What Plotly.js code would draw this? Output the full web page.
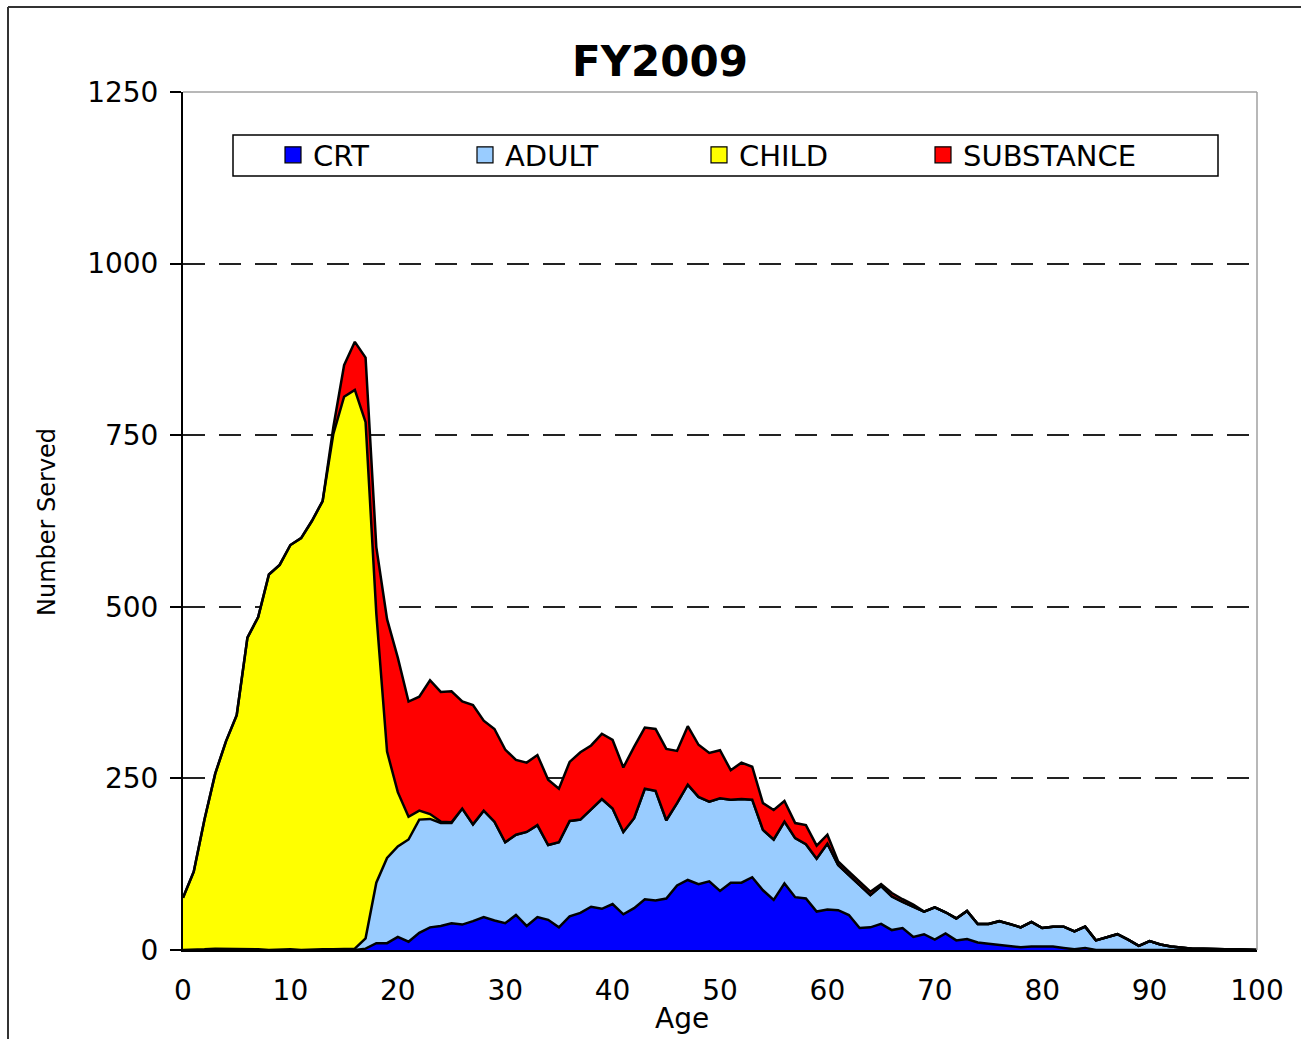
<!DOCTYPE html>
<html>
<head>
<meta charset="utf-8">
<script src="https://cdn.plot.ly/plotly-3.0.1.min.js"></script>
<style>
html, body { margin: 0; padding: 0; background: #ffffff; }
#chart { width: 1301px; height: 1039px; }
</style>
</head>
<body>
<div id="chart"></div>
<script>
// ---- Data ----
const ages = [0,1,2,3,4,5,6,7,8,9,10,11,12,13,14,15,16,17,18,19,20,21,22,23,24,25,26,27,28,29,30,31,32,33,34,35,36,37,38,39,40,41,42,43,44,45,46,47,48,49,50,51,52,53,54,55,56,57,58,59,60,61,62,63,64,65,66,67,68,69,70,71,72,73,74,75,76,77,78,79,80,81,82,83,84,85,86,87,88,89,90,91,92,93,94,95,96,97,98,99,100];

const seriesNames = ['CRT', 'ADULT', 'CHILD', 'SUBSTANCE'];

const crt = [0,0,0,0,0,0,0,0,0,0,0,0,0,0,0,0,0,2,10,10,19,12,25,33,35,39,37,42,48,43,39,51,35,48,44,33,49,54,63,60,67,52,61,74,72,75,94,102,96,100,86,98,98,106,87,73,97,77,75,56,59,58,51,32,33,38,29,32,19,23,15,24,14,16,11,9,7,6,4,5,5,5,3,1,3,0,0,0,0,0,0,0,0,0,0,0,0,0,0,0,0];

const adult = [0,0,1,2,2,1,1,1,0,1,1,0,1,1,1,1,2,15,88,124,132,149,165,158,150,146,169,141,155,144,118,117,137,134,109,124,139,136,142,160,139,120,131,161,160,114,120,139,127,116,135,121,122,113,88,88,90,86,79,77,96,66,58,63,47,55,49,38,44,33,47,31,32,41,27,29,35,32,29,36,27,29,31,26,31,14,18,23,15,6,13,8,5,3,2,2,1,1,1,0,0];

const child = [76,114,189,255,302,341,454,484,547,560,589,600,624,653,751,805,814,752,392,155,79,33,13,7,2,1,0,0,0,0,0,0,0,0,0,0,0,0,0,0,0,0,0,0,0,0,0,0,0,0,0,0,0,0,0,0,0,0,0,0,0,0,0,0,0,0,0,0,0,0,0,0,0,0,0,0,0,0,0,0,0,0,0,0,0,0,0,0,0,0,0,0,0,0,0,0,0,0,0,0,0];

const substance = [0,0,0,0,0,0,0,0,0,0,0,0,0,0,10,46,70,94,97,193,196,168,166,195,189,191,156,174,131,135,135,109,101,102,95,78,86,98,93,95,100,94,104,89,90,104,76,85,76,71,70,43,53,48,39,43,30,22,28,19,13,5,5,5,5,3,5,4,3,0,0,0,0,0,0,0,0,0,0,0,0,0,0,0,0,0,0,0,0,0,0,0,0,0,0,0,0,0,0,0,0];

const xTickVals = [0,10,20,30,40,50,60,70,80,90,100];
const yTickVals = [0,250,500,750,1000,1250];

const chartTitle = 'FY2009';
const xTitle = 'Age';
const yTitle = 'Number Served';

// ---- Styles ----
const colors = ['#0000FF', '#99CCFF', '#FFFF00', '#FF0000'];
const legendWidths = [147, 189, 179, 210];
const FONT = 'DejaVu Sans, Liberation Sans, Arial, sans-serif';
const values = [crt, adult, child, substance];

const traces = [];
values.forEach(function (vals, i) {
  traces.push({
    type: 'scatter',
    mode: 'lines',
    x: ages,
    y: vals,
    name: seriesNames[i],
    stackgroup: 'one',
    legendgroup: seriesNames[i],
    showlegend: false,
    line: { color: '#000000', width: 2.5, shape: 'linear' },
    fillcolor: colors[i],
    hovertemplate: seriesNames[i] + ' age %{x}: %{y}<extra></extra>'
  });
});
// legend entries (square swatches like the reference)
values.forEach(function (vals, i) {
  traces.push({
    type: 'scatter',
    mode: 'markers',
    x: [null],
    y: [null],
    name: seriesNames[i],
    legendgroup: seriesNames[i],
    showlegend: true,
    legendwidth: legendWidths[i],
    marker: { symbol: 'square', size: 18, color: colors[i], line: { color: '#000000', width: 1.2 } },
    hoverinfo: 'skip'
  });
});

// plot area in px: x 183..1257, y 92..950
const L = 183, R = 1257, T = 92, B = 950, W = 1301, H = 1039;
const pw = R - L, ph = B - T;
function px2x(p) { return (p - L) / pw; }
function px2y(p) { return (B - p) / ph; }

const layout = {
  width: W,
  height: H,
  margin: { l: L, r: W - R, t: T, b: H - B, pad: 0 },
  paper_bgcolor: '#ffffff',
  plot_bgcolor: '#ffffff',
  showlegend: true,
  title: {
    text: '<b>' + chartTitle + '</b>',
    font: { family: FONT, size: 42, color: '#000000' },
    xref: 'container', x: 660 / W, xanchor: 'center',
    yref: 'container', y: 1 - 61 / H, yanchor: 'middle'
  },
  xaxis: {
    range: [0, 100],
    tickvals: xTickVals,
    ticktext: xTickVals.map(String),
    showgrid: false,
    zeroline: false,
    showline: true,
    linecolor: '#000000',
    linewidth: 2,
    ticks: '',
    ticklabelstandoff: 14,
    tickfont: { family: FONT, size: 28, color: '#000000' },
    fixedrange: true
  },
  yaxis: {
    range: [0, 1250],
    tickvals: yTickVals,
    ticktext: yTickVals.map(String),
    showgrid: true,
    gridcolor: '#222222',
    gridwidth: 1.5,
    griddash: '22px,14px',
    zeroline: false,
    showline: true,
    linecolor: '#000000',
    linewidth: 2,
    ticks: 'outside',
    ticklen: 11,
    tickwidth: 1.5,
    tickcolor: '#000000',
    ticklabelstandoff: 6,
    tickfont: { family: FONT, size: 28, color: '#000000' },
    fixedrange: true
  },
  legend: {
    orientation: 'h',
    traceorder: 'normal',
    x: px2x(273), xanchor: 'left',
    y: px2y(155), yanchor: 'middle',
    bgcolor: 'rgba(0,0,0,0)',
    borderwidth: 0,
    font: { family: FONT, size: 29, color: '#000000' },
    itemclick: 'toggle'
  },
  shapes: [
    // plot frame (top and right, grey)
    { type: 'line', xref: 'paper', yref: 'paper', x0: 0, x1: 1, y0: 1, y1: 1, line: { color: '#a0a0a0', width: 1.5 }, layer: 'above' },
    { type: 'line', xref: 'paper', yref: 'paper', x0: 1, x1: 1, y0: 0, y1: 1, line: { color: '#a0a0a0', width: 1.5 }, layer: 'above' },
    // legend box
    { type: 'rect', xref: 'paper', yref: 'paper', x0: px2x(233), x1: px2x(1218), y0: px2y(176), y1: px2y(135), line: { color: '#000000', width: 1.5 }, fillcolor: 'rgba(0,0,0,0)', layer: 'above' },
    // outer chart border (top and left visible)
    { type: 'line', xref: 'paper', yref: 'paper', x0: px2x(8), x1: px2x(1320), y0: px2y(7), y1: px2y(7), line: { color: '#333333', width: 2 }, layer: 'above' },
    { type: 'line', xref: 'paper', yref: 'paper', x0: px2x(8), x1: px2x(8), y0: px2y(7), y1: px2y(1060), line: { color: '#333333', width: 2 }, layer: 'above' }
  ],
  annotations: [
    { text: xTitle, xref: 'paper', yref: 'paper', x: px2x(682), y: px2y(1018), xanchor: 'center', yanchor: 'middle', showarrow: false, font: { family: FONT, size: 28, color: '#000000' } },
    { text: yTitle, xref: 'paper', yref: 'paper', x: px2x(47), y: px2y(522), xanchor: 'center', yanchor: 'middle', textangle: -90, showarrow: false, font: { family: FONT, size: 24, color: '#000000' } }
  ]
};

Plotly.newPlot('chart', traces, layout, { displayModeBar: false, responsive: false });
</script>
</body>
</html>
